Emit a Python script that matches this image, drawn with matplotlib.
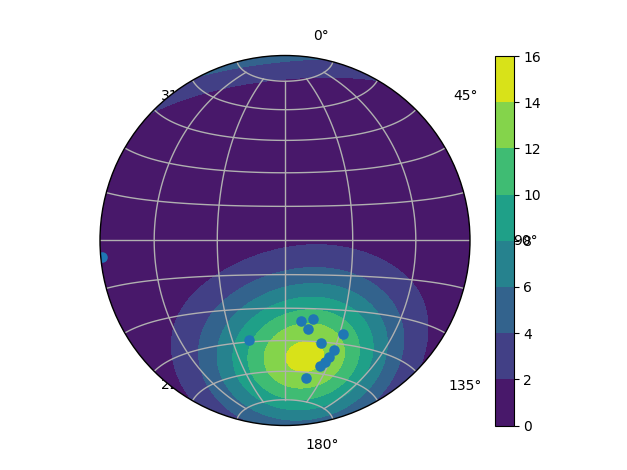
import numpy as np
import matplotlib
matplotlib.use("Agg")
import matplotlib.pyplot as plt
from matplotlib.patches import Circle

# poles, degrees on the net
lons = [8.4, 14.5, 12.5, 32.2, 21.2, -20.4, 30.2, 28.6, 27.1, 24.8, 17.3, -89.5]
lats = [-35.9, -34.8, -39.5, -40.6, -45.6, -44.2, -48.2, -51.5, -54.0, -56.4, -62.7, -5.1]
# the contours need more poles than are drawn, estimated from the contour shapes
extra_lons = [-12, 8, 10, -14, 24, -18, 8]
extra_lats = [-48, -70, -50, -52, -60, -58, -74]

levels = [0, 2, 4, 6, 8, 10, 12, 14, 16]
grid_lons = [-60, -30, 0, 30, 60]
grid_lats = [-75, -60, -45, -30, -15, 0, 15, 30, 45, 60, 75]
azimuth_labels = ["0°", "45°", "90°", "135°", "180°", "225°", "270°", "315°"]
W, H = 627, 470


def project(lon, lat):
    lon = np.radians(lon)
    lat = np.radians(lat)
    k = np.sqrt(2 / (1 + np.cos(lat) * np.cos(lon)))
    return k * np.cos(lat) * np.sin(lon), k * np.sin(lat)


def to_xyz(lon, lat):
    lon = np.radians(lon)
    lat = np.radians(lat)
    return np.stack([np.cos(lat) * np.cos(lon), np.cos(lat) * np.sin(lon), np.sin(lat)], axis=-1)


# exponential kamb density, poles count on both hemispheres
all_lons = np.array(lons + extra_lons)
all_lats = np.array(lats + extra_lats)
n = len(all_lons)
sigma = 2.85
f = 2 * (1 + n / sigma**2)
units = np.sqrt(n * (f / 2 - 1) / f**2)

glon, glat = np.meshgrid(np.linspace(-90, 90, 100), np.linspace(-90, 90, 100))
cos_dist = np.abs(to_xyz(glon, glat) @ to_xyz(all_lons, all_lats).T)
density = np.exp(f * (cos_dist - 1)).sum(axis=-1) / units

fig = plt.figure(figsize=(W / 100, H / 100), dpi=100)
ax = fig.add_axes([100 / W, 1 - 425.5 / H, 370 / W, 370 / H])
ax.set_xlim(-np.sqrt(2), np.sqrt(2))
ax.set_ylim(-np.sqrt(2), np.sqrt(2))
ax.set_aspect("equal")
ax.axis("off")

disc = Circle((0, 0), np.sqrt(2), transform=ax.transData, fc="white", ec="none", zorder=0.6)
ax.add_patch(disc)

gx, gy = project(glon, glat)
cf = ax.contourf(gx, gy, density, levels=levels, zorder=1)
cf.set_clip_path(disc)

for lon in grid_lons:
    t = np.linspace(-75, 75, 100)
    x, y = project(lon + 0 * t, t)
    ax.plot(x, y, color="#b0b0b0", lw=1, zorder=2, clip_path=disc)
for lat in grid_lats:
    t = np.linspace(-90, 90, 100)
    x, y = project(t, lat + 0 * t)
    ax.plot(x, y, color="#b0b0b0", lw=1, zorder=2, clip_path=disc)

px, py = project(np.array(lons), np.array(lats))
ax.plot(px, py, "o", color="tab:blue", ms=7.6, mew=0, zorder=3, clip_path=disc)

ax.add_patch(Circle((0, 0), np.sqrt(2), fc="none", ec="black", lw=1, zorder=4, clip_on=False))

# azimuth labels sit under the disc, that is why some are cut
label_left = [313.5, 453.5, 513.5, 448.5, 305.5, 160.5, 118, 160.5]
label_y = [35.7, 95.7, 240.7, 385.7, 444.7, 384.7, 240.7, 95.7]
for s, lx, ly in zip(azimuth_labels, label_left, label_y):
    ax.text(lx / W, 1 - ly / H, s, transform=fig.transFigure, ha="left", va="center",
            fontsize=10, zorder=0.5, clip_on=False)

cax = fig.add_axes([495 / W, 1 - 425.5 / H, 18.5 / W, 369.5 / H])
fig.colorbar(cf, cax=cax)

fig.savefig("out.png", dpi=100)
